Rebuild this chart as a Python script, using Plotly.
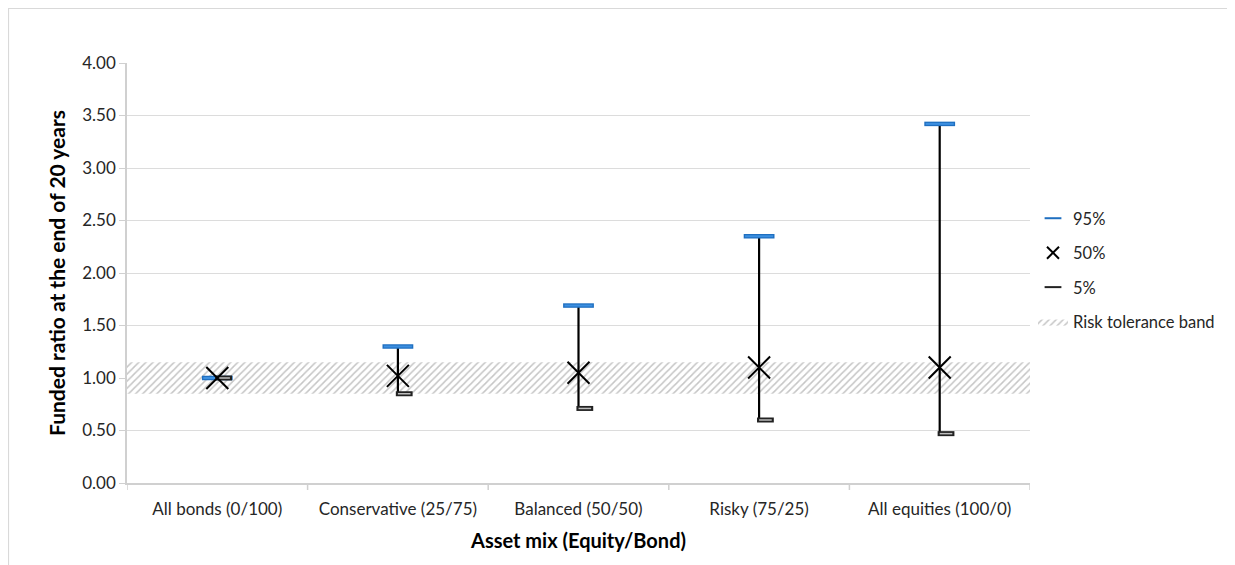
import plotly.graph_objects as go

categories = ["All bonds (0/100)", "Conservative (25/75)", "Balanced (50/50)", "Risky (75/25)", "All equities (100/0)"]
p95 = [1.00, 1.30, 1.69, 2.35, 3.42]
p50 = [1.00, 1.02, 1.05, 1.10, 1.10]
p5 = [1.00, 0.85, 0.71, 0.60, 0.47]
band_low, band_high = 0.85, 1.15
y_ticks = [0, 0.5, 1, 1.5, 2, 2.5, 3, 3.5, 4]

FONT = "Lato"
idx = list(range(len(categories)))

# figure geometry (page has an 8px body margin)
W, H = 1227, 557
ML, MR, MT, MB = 119, 205, 55, 82
PW, PH = W - ML - MR, H - MT - MB


def px_x(p):
    return (p - ML) / PW


def px_y(p):
    return (H - MB - p) / PH


fig = go.Figure()

# Risk tolerance band
x0, x1 = -0.5, len(categories) - 0.5
fig.add_trace(go.Scatter(
    x=[x0, x1, x1, x0, x0], y=[band_low, band_low, band_high, band_high, band_low],
    mode="lines", fill="toself", line=dict(width=0, color="rgba(0,0,0,0)"),
    fillcolor="white",
    fillpattern=dict(shape="/", fgcolor="#8c8c8c", bgcolor="white", size=5, solidity=0.3),
    name="Risk tolerance band", legendgroup="band", legendrank=4, hoverinfo="skip"))

# high-low lines
lx, ly = [], []
for i in idx:
    lx += [i, i, None]
    ly += [p5[i], p95[i], None]
fig.add_trace(go.Scatter(x=lx, y=ly, mode="lines", line=dict(color="black", width=2.2),
                         showlegend=False, hoverinfo="skip"))

# 95%
fig.add_trace(go.Scatter(x=idx, y=p95, mode="markers", name="95%", legendgroup="p95", legendrank=1,
                         marker=dict(symbol="line-ew", size=22, line=dict(width=4.5, color="#1f6fc0"))))
fig.add_trace(go.Scatter(x=idx, y=p95, mode="markers", showlegend=False, hoverinfo="skip",
                         marker=dict(symbol="line-ew", size=20, line=dict(width=2, color="#3c8fe0"))))

# 5%
off = [i + 0.035 for i in idx]
fig.add_trace(go.Scatter(x=off, y=p5, mode="markers", name="5%", legendgroup="p5", legendrank=3,
                         marker=dict(symbol="line-ew", size=12, line=dict(width=5, color="#222"))))
fig.add_trace(go.Scatter(x=off, y=p5, mode="markers", showlegend=False, hoverinfo="skip",
                         marker=dict(symbol="line-ew", size=9, line=dict(width=1.5, color="#bdbdbd"))))

# 50%
fig.add_trace(go.Scatter(x=idx, y=p50, mode="markers", name="50%", legendgroup="p50", legendrank=2,
                         marker=dict(symbol="x-thin", size=22, line=dict(width=2, color="black"))))

fig.update_layout(
    width=W, height=H,
    margin=dict(l=ML, r=MR, t=MT, b=MB),
    paper_bgcolor="white", plot_bgcolor="white",
    font=dict(family=FONT, size=17, color="#262626"),
    legend=dict(x=px_x(1025), y=px_y(193), xanchor="left", yanchor="top",
                font=dict(size=16.5, color="#262626"),
                tracegroupgap=10, itemsizing="constant", itemwidth=30, bgcolor="rgba(0,0,0,0)"),
    xaxis=dict(range=[x0, x1], tickvals=idx, ticktext=categories, showgrid=False, zeroline=False,
               showline=True, linecolor="#d0d0d0", linewidth=1.5, ticks="", ticklabelstandoff=10,
               title=dict(text="<b>Asset mix (Equity/Bond)</b>", font=dict(size=20, color="black"), standoff=16)),
    yaxis=dict(range=[0, 4], tickvals=y_ticks, tickformat=".2f", showgrid=True, gridcolor="#dcdcdc", gridwidth=1,
               zeroline=False, showline=True, linecolor="#d0d0d0", linewidth=1.5, ticks="outside",
               ticklen=6, tickcolor="#d0d0d0",
               title=dict(text="<b>Funded ratio at the end of 20 years</b>", font=dict(size=21, color="black"), standoff=11)),
)

# category separator tick marks on x-axis
for b in [i - 0.5 for i in idx] + [x1]:
    fig.add_shape(type="line", xref="x", yref="paper", x0=b, x1=b, y0=0, y1=-7 / PH,
                  line=dict(color="#d0d0d0", width=1.5))

# outer chart border
fig.add_shape(type="rect", xref="paper", yref="paper",
              x0=px_x(0.5), x1=px_x(1222), y0=px_y(H + 20), y1=px_y(0.5),
              line=dict(color="#d9d9d9", width=1.2))

fig.write_html("out.html")
